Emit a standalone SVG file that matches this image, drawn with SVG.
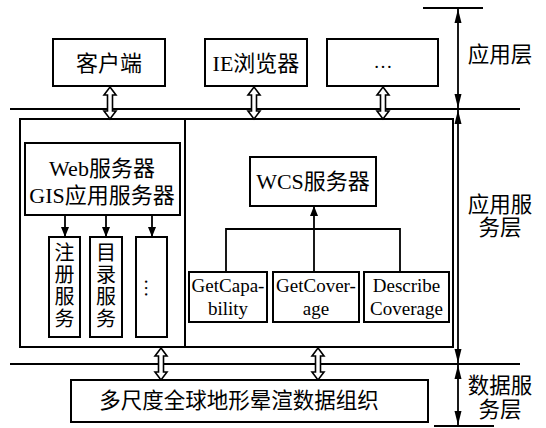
<svg xmlns="http://www.w3.org/2000/svg" width="546" height="428" viewBox="0 0 546 428">
<defs>
<marker id="ah" viewBox="0 0 10 10" refX="10" refY="5" markerWidth="10" markerHeight="10" markerUnits="userSpaceOnUse" orient="auto-start-reverse">
<path d="M0,1 L10,5 L0,9 Z" fill="#000"/>
</marker>
<marker id="ahl" viewBox="0 0 14 8" refX="14" refY="4" markerWidth="14" markerHeight="8" markerUnits="userSpaceOnUse" orient="auto-start-reverse">
<path d="M0,0.5 L14,4 L0,7.5 Z" fill="#000"/>
</marker>
</defs>
<style>
.box{fill:#fff;stroke:#000;stroke-width:2}
.ln{fill:none;stroke:#000;stroke-width:1.8}
.dbl{fill:#fff;stroke:#000;stroke-width:1.6;stroke-linejoin:miter}
text{font-family:"Liberation Serif","Noto Sans CJK SC",serif;fill:#000;text-anchor:middle;dominant-baseline:central}
.t22{font-size:22px}
.t21{font-size:21.5px}
.t20{font-size:20px}
.t19{font-size:19px}
</style>
<rect width="546" height="428" fill="#fff"/>

<g id="connectors">
<line class="ln" x1="10" y1="109" x2="520" y2="109"/>
<line class="ln" x1="10" y1="364" x2="520" y2="364"/>
<line class="ln" x1="423" y1="8" x2="483" y2="8"/>
<line class="ln" x1="434" y1="426" x2="494" y2="426"/>
<line class="ln" x1="458" y1="9" x2="458" y2="108" marker-start="url(#ahl)" marker-end="url(#ahl)"/>
<line class="ln" x1="458" y1="110" x2="458" y2="363" marker-start="url(#ahl)" marker-end="url(#ahl)"/>
<line class="ln" x1="458" y1="365" x2="458" y2="425" marker-start="url(#ahl)" marker-end="url(#ahl)"/>
<path class="dbl" d="M110,87 L116,95 L112.5,95 L112.5,111 L116,111 L110,119 L104,111 L107.5,111 L107.5,95 L104,95 Z"/>
<path class="dbl" d="M254,87 L260,95 L256.5,95 L256.5,111 L260,111 L254,119 L248,111 L251.5,111 L251.5,95 L248,95 Z"/>
<path class="dbl" d="M383,87 L389,95 L385.5,95 L385.5,111 L389,111 L383,119 L377,111 L380.5,111 L380.5,95 L377,95 Z"/>
<path class="dbl" d="M161,348 L167,356 L163.5,356 L163.5,372 L167,372 L161,380 L155,372 L158.5,372 L158.5,356 L155,356 Z"/>
<path class="dbl" d="M318,348 L324,356 L320.5,356 L320.5,372 L324,372 L318,380 L312,372 L315.5,372 L315.5,356 L312,356 Z"/>
<line class="ln" x1="65" y1="215" x2="65" y2="237" marker-end="url(#ah)"/>
<line class="ln" x1="106" y1="215" x2="106" y2="237" marker-end="url(#ah)"/>
<line class="ln" x1="152" y1="215" x2="152" y2="237" marker-end="url(#ah)"/>
<polyline class="ln" points="226,272 226,229 400,229 400,272"/>
<line class="ln" x1="314" y1="272" x2="314" y2="206" marker-end="url(#ah)"/>
</g>

<g id="client">
<rect class="box" x="53" y="39" width="112" height="47"/>
<text class="t22" x="109" y="63">客户端</text>
</g>
<g id="ie">
<rect class="box" x="205" y="39" width="102" height="47"/>
<text class="t22" x="256" y="63">IE浏览器</text>
</g>
<g id="more">
<rect class="box" x="327" y="39" width="111" height="47"/>
<text class="t19" x="383" y="61">…</text>
</g>

<g id="appservice">
<rect x="20" y="119" width="433" height="228" fill="none" stroke="#000" stroke-width="2"/>
<line x1="185" y1="119" x2="185" y2="347" stroke="#000" stroke-width="2"/>
</g>

<g id="web">
<rect class="box" x="25" y="143" width="155" height="72"/>
<text class="t22" x="102" y="168">Web服务器</text>
<text class="t22" x="102" y="195">GIS应用服务器</text>
</g>
<g id="reg">
<rect class="box" x="49" y="237" width="31" height="100"/>
<text class="t20" x="64.5" y="253">注</text>
<text class="t20" x="64.5" y="275">册</text>
<text class="t20" x="64.5" y="297">服</text>
<text class="t20" x="64.5" y="319">务</text>
</g>
<g id="cat">
<rect class="box" x="90" y="237" width="32" height="100"/>
<text class="t20" x="106" y="253">目</text>
<text class="t20" x="106" y="275">录</text>
<text class="t20" x="106" y="297">服</text>
<text class="t20" x="106" y="319">务</text>
</g>
<g id="moresvc">
<rect class="box" x="136" y="237" width="31" height="100"/>
<text class="t19" x="0" y="0" transform="translate(151.5,288) rotate(90)">…</text>
</g>

<g id="wcs">
<rect class="box" x="250" y="157" width="126" height="49"/>
<text class="t22" x="313" y="181">WCS服务器</text>
</g>
<g id="getcap">
<rect class="box" x="189" y="272" width="78" height="50"/>
<text class="t19" x="228" y="285">GetCapa-</text>
<text class="t19" x="228" y="308">bility</text>
</g>
<g id="getcov">
<rect class="box" x="273" y="272" width="86" height="50"/>
<text class="t19" x="316" y="285">GetCover-</text>
<text class="t19" x="316" y="308">age</text>
</g>
<g id="desc">
<rect class="box" x="364" y="272" width="85" height="50"/>
<text class="t19" x="406.5" y="285">Describe</text>
<text class="t19" x="406.5" y="308">Coverage</text>
</g>

<g id="data">
<rect class="box" x="71" y="380" width="357" height="42"/>
<text class="t21" x="239" y="401">多尺度全球地形晕渲数据组织</text>
</g>

<g id="labels">
<text class="t21" x="500" y="55">应用层</text>
<text class="t21" x="500" y="205">应用服</text>
<text class="t21" x="500" y="228">务层</text>
<text class="t21" x="500" y="386">数据服</text>
<text class="t21" x="500" y="410">务层</text>
</g>
</svg>
